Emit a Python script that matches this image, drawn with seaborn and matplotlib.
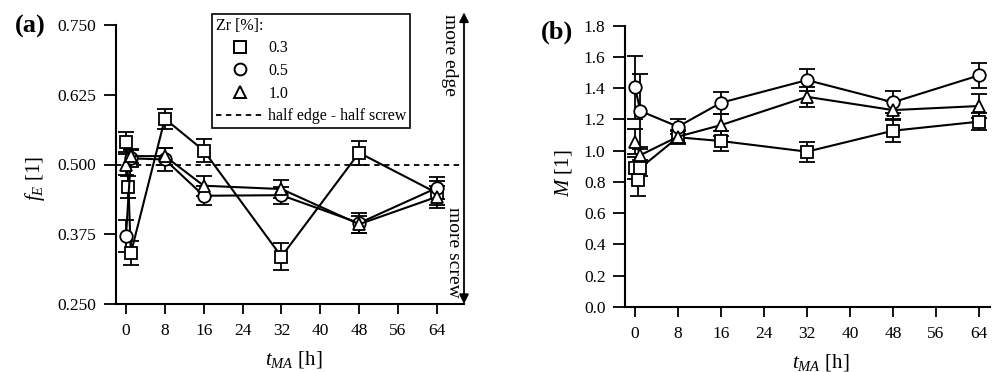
import numpy as np
import pandas as pd
import matplotlib
matplotlib.use("Agg")
import matplotlib.pyplot as plt
from matplotlib.lines import Line2D
import seaborn as sns

# ---------------- data ----------------
t_03 = [0, 0.5, 1, 8, 16, 32, 48, 64]
t_05 = [0, 1, 8, 16, 32, 48, 64]
t_10 = [0, 1, 8, 16, 32, 48, 64]

fE_03 = [0.541, 0.460, 0.341, 0.582, 0.525, 0.335, 0.521, 0.449]
fE_03_err = [0.018, 0.020, 0.022, 0.018, 0.020, 0.024, 0.021, 0.022]
fE_05 = [0.372, 0.511, 0.509, 0.444, 0.445, 0.395, 0.458]
fE_05_err = [0.028, 0.015, 0.020, 0.017, 0.015, 0.018, 0.020]
fE_10 = [0.500, 0.515, 0.515, 0.462, 0.456, 0.393, 0.442]
fE_10_err = [0.018, 0.012, 0.015, 0.018, 0.016, 0.015, 0.020]

M_03 = [0.89, 0.81, 0.89, 1.086, 1.062, 0.994, 1.128, 1.186]
M_03_err = [0.07, 0.10, 0.05, 0.04, 0.065, 0.065, 0.07, 0.055]
M_05 = [1.405, 1.254, 1.154, 1.307, 1.452, 1.31, 1.482]
M_05_err = [0.20, 0.24, 0.05, 0.07, 0.07, 0.07, 0.08]
M_10 = [1.058, 0.972, 1.09, 1.164, 1.345, 1.26, 1.286]
M_10_err = [0.08, 0.05, 0.04, 0.07, 0.065, 0.06, 0.075]

zr_labels = ["0.3", "0.5", "1.0"]
x_ticks = [0, 8, 16, 24, 32, 40, 48, 56, 64]
fE_ticks = [0.250, 0.375, 0.500, 0.625, 0.750]
M_ticks = [0.0, 0.2, 0.4, 0.6, 0.8, 1.0, 1.2, 1.4, 1.6, 1.8]

# ---------------- style ----------------
sns.set_theme(style="ticks")
plt.rcParams["font.family"] = ["Liberation Serif", "DejaVu Serif"]
plt.rcParams["mathtext.fontset"] = "custom"
plt.rcParams["mathtext.rm"] = "Liberation Serif"
plt.rcParams["mathtext.it"] = "Liberation Serif:italic"
plt.rcParams["axes.linewidth"] = 1.5
plt.rcParams["xtick.major.width"] = 1.3
plt.rcParams["ytick.major.width"] = 1.3
for key in ["xtick.color", "ytick.color", "axes.edgecolor", "text.color",
            "axes.labelcolor", "xtick.labelcolor", "ytick.labelcolor"]:
    plt.rcParams[key] = "black"

markers = {"0.3": "s", "0.5": "o", "1.0": "^"}


def build(ts, vals, errs):
    rows = []
    for lab, t, v, e in zip(zr_labels, ts, vals, errs):
        for ti, vi, ei in zip(t, v, e):
            rows.append({"t": ti, "v": vi, "err": ei, "Zr": lab})
    return pd.DataFrame(rows)


df_a = build([t_03, t_05, t_10], [fE_03, fE_05, fE_10], [fE_03_err, fE_05_err, fE_10_err])
df_b = build([t_03, t_05, t_10], [M_03, M_05, M_10], [M_03_err, M_05_err, M_10_err])

fig = plt.figure(figsize=(9.97, 3.72), dpi=100)
ax_a = fig.add_axes([116 / 997, 1 - 304 / 372, 348 / 997, 279 / 372])
ax_b = fig.add_axes([625 / 997, 1 - 307 / 372, 365 / 997, 281.3 / 372])


def draw(ax, df):
    for lab in zr_labels:
        sub = df[df["Zr"] == lab]
        ax.errorbar(sub["t"], sub["v"], yerr=sub["err"], fmt="none",
                    ecolor="black", elinewidth=1.3, capsize=6, capthick=1.3,
                    zorder=2)
    sns.lineplot(data=df, x="t", y="v", style="Zr", markers=markers,
                 dashes=False, color="black", legend=False, ax=ax,
                 linewidth=1.5, markersize=9, markerfacecolor="white",
                 markeredgecolor="black", markeredgewidth=1.3, zorder=3,
                 sort=True, estimator=None)


draw(ax_a, df_a)
draw(ax_b, df_b)

for ax in (ax_a, ax_b):
    sns.despine(ax=ax)
    ax.set_xticks(x_ticks)
    ax.tick_params(axis="x", length=7, pad=7, labelsize=12.5, direction="out")
    ax.tick_params(axis="y", length=9, pad=5, labelsize=12.5, direction="out")
    ax.set_xlabel(r"$t_{MA}$ [h]", fontsize=15)

# panel a
ax_a.set_xlim(-2.06, 69.6)
ax_a.set_ylim(0.25, 0.75)
ax_a.set_yticks(fE_ticks)
ax_a.set_yticklabels([f"{v:.3f}" for v in fE_ticks])
ax_a.axhline(0.5, color="black", ls=(0, (3, 2.5)), lw=1.3, zorder=1)
ax_a.set_ylabel(r"$f_E$ [1]", fontsize=15)
ax_a.yaxis.set_label_coords(-0.197, 0.45)
ax_a.xaxis.set_label_coords(0.51, -0.16)

ax_a.annotate("", xy=(1.0, 1.045), xytext=(1.0, 0.0), xycoords="axes fraction",
              textcoords="axes fraction", annotation_clip=False,
              arrowprops=dict(arrowstyle="<|-|>", color="black", lw=1.3,
                              mutation_scale=14, shrinkA=0, shrinkB=0))
ax_a.text(0.957, 0.892, "more edge", rotation=-90, transform=ax_a.transAxes,
          ha="center", va="center", fontsize=14)
ax_a.text(0.971, 0.186, "more screw", rotation=-90, transform=ax_a.transAxes,
          ha="center", va="center", fontsize=14)

handles = [Line2D([], [], ls="none", marker=markers[l], markersize=8.5,
                  markerfacecolor="white", markeredgecolor="black",
                  markeredgewidth=1.4) for l in zr_labels]
handles.append(Line2D([], [], ls=(0, (3, 2.5)), color="black", lw=1.3))
labels = zr_labels + ["half edge - half screw"]
leg = ax_a.legend(handles, labels, title="Zr [%]:", loc="upper left",
                  bbox_to_anchor=(212 / 997, 1 - 14 / 372),
                  bbox_transform=fig.transFigure, borderaxespad=0,
                  fancybox=False, edgecolor="black", framealpha=1,
                  fontsize=11.5, title_fontsize=11.5, handlelength=3.1,
                  handletextpad=0.2, labelspacing=0.42, borderpad=0.22)
leg.get_frame().set_linewidth(1.2)
leg._legend_box.align = "left"

# panel b
ax_b.set_xlim(-1.86, 66.05)
ax_b.set_ylim(0.0, 1.8)
ax_b.set_yticks(M_ticks)
ax_b.set_yticklabels([f"{v:.1f}" for v in M_ticks])
ax_b.set_ylabel(r"$M$ [1]", fontsize=15)
ax_b.yaxis.set_label_coords(-0.14, 0.477)
ax_b.xaxis.set_label_coords(0.537, -0.16)

fig.text(30 / 997, 1 - 26 / 372, "(a)", fontsize=19, fontweight="bold",
         ha="center", va="center")
fig.text(557 / 997, 1 - 32 / 372, "(b)", fontsize=19, fontweight="bold",
         ha="center", va="center")

fig.savefig("out.png", dpi=100)
